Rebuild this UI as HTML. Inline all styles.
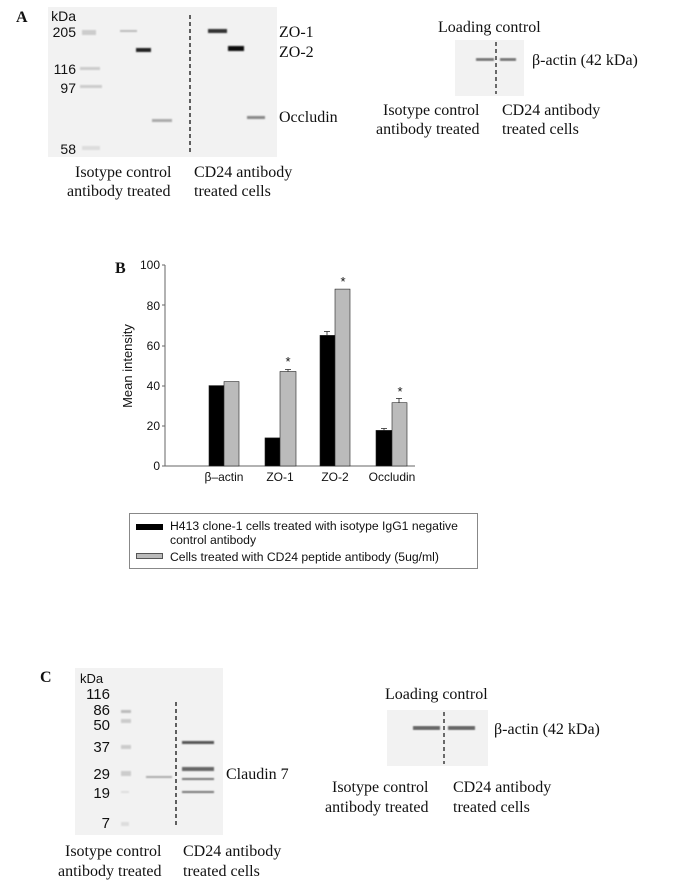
<!DOCTYPE html>
<html><head><meta charset="utf-8"><style>
body{margin:0;background:#fff;}
svg{display:block}
.t{font-family:"Liberation Serif",serif;font-size:16px;fill:#111}
.s{font-family:"Liberation Sans",sans-serif;fill:#111}
</style></head><body>
<svg width="685" height="884" viewBox="0 0 685 884">
<defs>
<filter id="bl"><feGaussianBlur stdDeviation="0.8"/></filter>
</defs>
<!-- Panel A -->
<text x="16" y="22" class="t" font-weight="bold" font-size="17">A</text>
<rect x="48" y="7" width="229" height="150" fill="#f2f2f2"/>
<g class="s" font-size="14" text-anchor="end" fill="#333">
<text x="76" y="21">kDa</text><text x="76" y="37">205</text><text x="76" y="74">116</text><text x="76" y="93">97</text><text x="76" y="154">58</text></g>
<g filter="url(#bl)">
<rect x="82" y="30" width="14" height="5" fill="#ccc"/>
<rect x="80" y="67" width="20" height="3" fill="#ccc"/>
<rect x="80" y="85" width="22" height="3" fill="#ccc"/>
<rect x="82" y="146" width="18" height="4" fill="#ddd"/>
<rect x="120" y="30" width="17" height="2" fill="#bbb"/>
<rect x="136" y="48" width="15" height="4" fill="#222"/>
<rect x="152" y="119" width="20" height="3" fill="#aaa"/>
<rect x="208" y="29" width="19" height="4" fill="#333"/>
<rect x="228" y="46" width="16" height="5" fill="#111"/>
<rect x="247" y="116" width="18" height="3" fill="#888"/>
</g>
<line x1="190" y1="15" x2="190" y2="152" stroke="#111" stroke-width="1.3" stroke-dasharray="4,3"/>
<text x="279" y="37" class="t">ZO-1</text><text x="279" y="57" class="t">ZO-2</text><text x="279" y="122" class="t">Occludin</text>
<text x="75" y="177" class="t">Isotype control</text><text x="67" y="196" class="t">antibody treated</text>
<text x="194" y="177" class="t">CD24 antibody</text><text x="194" y="196" class="t">treated cells</text>
<!-- A right -->
<text x="438" y="32" class="t">Loading control</text>
<rect x="455" y="40" width="69" height="56" fill="#f2f2f2"/>
<g filter="url(#bl)"><rect x="476" y="58" width="18" height="3" fill="#777"/><rect x="500" y="58" width="16" height="3" fill="#777"/></g>
<line x1="496" y1="42" x2="496" y2="94" stroke="#111" stroke-width="1.2" stroke-dasharray="4,3"/>
<text x="532" y="65" class="t">β-actin (42 kDa)</text>
<text x="383" y="115" class="t">Isotype control</text><text x="376" y="134" class="t">antibody treated</text>
<text x="502" y="115" class="t">CD24 antibody</text><text x="502" y="134" class="t">treated cells</text>
<!-- Panel B -->
<text x="115" y="273" class="t" font-weight="bold" font-size="17">B</text>
<line x1="165" y1="265" x2="165" y2="466" stroke="#666"/>
<line x1="165" y1="466" x2="415" y2="466" stroke="#666"/>
<g class="s" font-size="12" text-anchor="end">
<text x="160" y="470">0</text><text x="160" y="430">20</text><text x="160" y="390">40</text><text x="160" y="350">60</text><text x="160" y="310">80</text><text x="160" y="269">100</text></g>
<g stroke="#666"><line x1="162" y1="466" x2="165" y2="466"/><line x1="162" y1="426" x2="165" y2="426"/><line x1="162" y1="386" x2="165" y2="386"/><line x1="162" y1="346" x2="165" y2="346"/><line x1="162" y1="305" x2="165" y2="305"/><line x1="162" y1="265" x2="165" y2="265"/></g>
<text transform="translate(132,366) rotate(-90)" class="s" font-size="13" text-anchor="middle">Mean intensity</text>
<g stroke="#222" stroke-width="0.6">
<rect x="209" y="385.6" width="15" height="80.4" fill="#000"/>
<rect x="224" y="381.6" width="15" height="84.4" fill="#bbb"/>
<rect x="265" y="437.9" width="15" height="28.1" fill="#000"/>
<rect x="280" y="371.5" width="16" height="94.5" fill="#bbb"/>
<rect x="320" y="335.4" width="15" height="130.6" fill="#000"/>
<rect x="335" y="289.1" width="15" height="176.9" fill="#bbb"/>
<rect x="376" y="430.4" width="16" height="35.6" fill="#000"/>
<rect x="392" y="402.7" width="15" height="63.3" fill="#bbb"/>
</g>
<g stroke="#222" stroke-width="0.8" fill="none">
<path d="M288 371.5V369.5M285 369.5H291"/>
<path d="M327 335.4V331.5M324 331.5H330"/>
<path d="M384 430.4V428.5M381 428.5H387"/>
<path d="M399 402.7V398.5M396 398.5H402"/>
</g>
<g class="s" font-size="13" text-anchor="middle">
<text x="288" y="366">*</text><text x="343" y="286">*</text><text x="400" y="396">*</text></g>
<g class="s" font-size="12" text-anchor="middle">
<text x="224" y="481">β–actin</text><text x="280" y="481">ZO-1</text><text x="335" y="481">ZO-2</text><text x="392" y="481">Occludin</text></g>
<rect x="129.5" y="513.5" width="348" height="55" fill="none" stroke="#888"/>
<rect x="136" y="524" width="27" height="6" fill="#000"/>
<rect x="136.5" y="553.5" width="26" height="5" fill="#bbb" stroke="#555"/>
<g class="s" font-size="12.2"><text x="170" y="530">H413 clone-1 cells treated with isotype IgG1 negative</text><text x="170" y="544">control antibody</text><text x="170" y="561">Cells treated with CD24 peptide antibody (5ug/ml)</text></g>
<!-- Panel C -->
<text x="40" y="682" class="t" font-weight="bold" font-size="17">C</text>
<rect x="75" y="668" width="148" height="167" fill="#f2f2f2"/>
<text x="80" y="683" class="s" font-size="13" fill="#333">kDa</text>
<g class="s" font-size="15" text-anchor="end" fill="#333">
<text x="110" y="699">116</text><text x="110" y="715">86</text><text x="110" y="730">50</text><text x="110" y="752">37</text><text x="110" y="779">29</text><text x="110" y="798">19</text><text x="110" y="828">7</text></g>
<g filter="url(#bl)">
<rect x="121" y="710" width="10" height="3" fill="#bbb"/><rect x="121" y="719" width="10" height="4" fill="#ccc"/>
<rect x="121" y="745" width="10" height="4" fill="#ccc"/><rect x="121" y="771" width="10" height="5" fill="#ccc"/>
<rect x="121" y="791" width="8" height="2" fill="#ddd"/><rect x="121" y="822" width="8" height="4" fill="#ddd"/>
<rect x="146" y="776" width="26" height="2" fill="#aaa"/>
<rect x="182" y="741" width="32" height="3" fill="#555"/>
<rect x="182" y="767" width="32" height="4" fill="#666"/>
<rect x="182" y="778" width="32" height="2" fill="#777"/>
<rect x="182" y="791" width="32" height="2" fill="#777"/>
</g>
<line x1="176" y1="702" x2="176" y2="826" stroke="#111" stroke-width="1.3" stroke-dasharray="4,3"/>
<text x="226" y="779" class="t">Claudin 7</text>
<text x="65" y="856" class="t">Isotype control</text><text x="58" y="876" class="t">antibody treated</text>
<text x="183" y="856" class="t">CD24 antibody</text><text x="183" y="876" class="t">treated cells</text>
<!-- C right -->
<text x="385" y="699" class="t">Loading control</text>
<rect x="387" y="710" width="101" height="56" fill="#f2f2f2"/>
<g filter="url(#bl)"><rect x="413" y="726" width="27" height="4" fill="#666"/><rect x="448" y="726" width="27" height="4" fill="#666"/></g>
<line x1="444" y1="712" x2="444" y2="764" stroke="#111" stroke-width="1.2" stroke-dasharray="4,3"/>
<text x="494" y="734" class="t">β-actin (42 kDa)</text>
<text x="332" y="792" class="t">Isotype control</text><text x="325" y="812" class="t">antibody treated</text>
<text x="453" y="792" class="t">CD24 antibody</text><text x="453" y="812" class="t">treated cells</text>
</svg>
</body></html>
